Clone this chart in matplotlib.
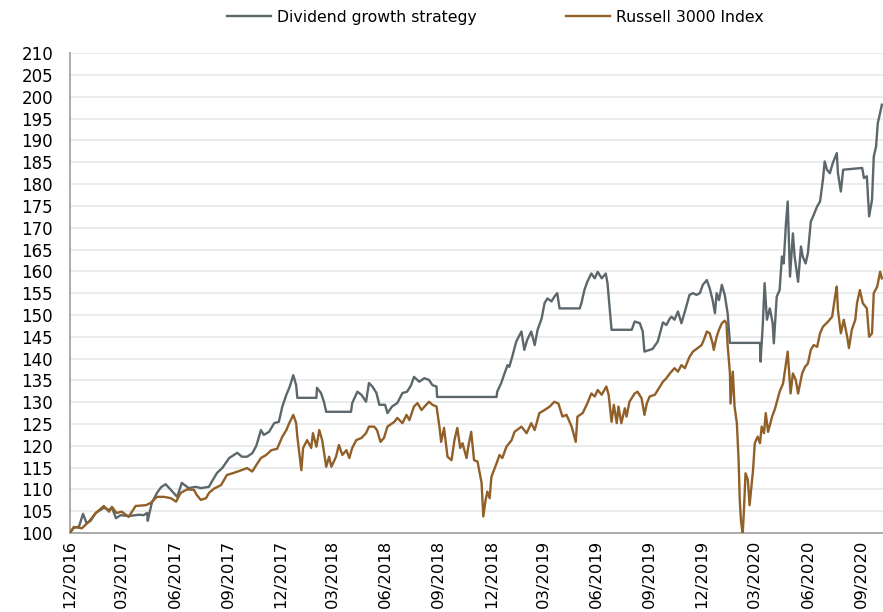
import pandas as pd
import matplotlib
matplotlib.use("Agg")
import matplotlib.pyplot as plt


# Dividend growth strategy (indexed to 100)
div_dates = [
    '2016-12-01', '2016-12-08', '2016-12-17', '2016-12-24', '2016-12-30', '2017-01-06', '2017-01-15', '2017-01-29',
    '2017-02-07', '2017-02-12', '2017-02-19', '2017-02-27', '2017-03-13', '2017-03-31', '2017-04-08', '2017-04-14',
    '2017-04-15', '2017-04-22', '2017-05-01', '2017-05-08', '2017-05-16', '2017-05-25', '2017-06-05', '2017-06-13',
    '2017-06-25', '2017-07-07', '2017-07-16', '2017-07-30', '2017-08-04', '2017-08-13', '2017-08-22', '2017-09-03',
    '2017-09-17', '2017-09-25', '2017-10-04', '2017-10-13', '2017-10-20', '2017-10-28', '2017-11-02', '2017-11-11',
    '2017-11-20', '2017-11-28', '2017-12-04', '2017-12-11', '2017-12-17', '2017-12-23', '2017-12-28', '2017-12-30',
    '2018-02-01', '2018-02-02', '2018-02-09', '2018-02-14', '2018-02-18', '2018-04-02', '2018-04-04', '2018-04-13',
    '2018-04-20', '2018-04-28', '2018-05-03', '2018-05-09', '2018-05-16', '2018-05-21', '2018-05-31', '2018-06-04',
    '2018-06-12', '2018-06-21', '2018-06-30', '2018-07-08', '2018-07-15', '2018-07-20', '2018-07-29', '2018-08-07',
    '2018-08-15', '2018-08-21', '2018-08-28', '2018-08-29', '2018-12-10', '2018-12-11', '2018-12-18', '2018-12-24',
    '2018-12-29', '2019-01-01', '2019-01-06', '2019-01-13', '2019-01-22', '2019-01-27', '2019-02-01', '2019-02-08',
    '2019-02-14', '2019-02-19', '2019-02-26', '2019-03-03', '2019-03-08', '2019-03-15', '2019-03-20', '2019-03-25',
    '2019-03-29', '2019-05-03', '2019-05-06', '2019-05-11', '2019-05-16', '2019-05-23', '2019-05-29', '2019-06-03',
    '2019-06-10', '2019-06-17', '2019-06-20', '2019-06-27', '2019-08-01', '2019-08-06', '2019-08-15', '2019-08-20',
    '2019-08-23', '2019-09-06', '2019-09-15', '2019-09-24', '2019-09-30', '2019-10-06', '2019-10-09', '2019-10-14',
    '2019-10-20', '2019-10-26', '2019-11-01', '2019-11-09', '2019-11-15', '2019-11-21', '2019-11-27', '2019-12-02',
    '2019-12-09', '2019-12-14', '2019-12-19', '2019-12-23', '2019-12-26', '2019-12-30', '2020-01-04', '2020-01-09',
    '2020-01-14', '2020-01-18', '2020-03-10', '2020-03-11', '2020-03-15', '2020-03-18', '2020-03-22', '2020-03-27',
    '2020-04-01', '2020-04-03', '2020-04-08', '2020-04-13', '2020-04-17', '2020-04-20', '2020-04-24', '2020-04-27',
    '2020-05-01', '2020-05-06', '2020-05-09', '2020-05-15', '2020-05-20', '2020-05-23', '2020-05-28', '2020-06-01',
    '2020-06-06', '2020-06-10', '2020-06-17', '2020-06-22', '2020-06-27', '2020-06-30', '2020-07-04', '2020-07-09',
    '2020-07-14', '2020-07-21', '2020-07-23', '2020-07-28', '2020-08-01', '2020-09-03', '2020-09-06', '2020-09-11',
    '2020-09-15', '2020-09-20', '2020-09-23', '2020-09-27', '2020-09-30', '2020-10-04', '2020-10-07',
]
div_values = [
    100.0, 101.2, 101.5, 104.4, 102.3, 102.8, 104.6, 105.8,
    105.3, 105.8, 103.4, 104.1, 103.9, 104.2, 104.1, 104.6,
    102.8, 106.9, 109.2, 110.5, 111.2, 109.9, 108.3, 111.5,
    110.3, 110.6, 110.3, 110.6, 111.8, 113.8, 114.9, 117.2,
    118.4, 117.5, 117.5, 118.3, 120.0, 123.6, 122.5, 123.2,
    125.2, 125.5, 129.0, 131.7, 133.6, 136.2, 133.9, 131.0,
    131.0, 133.3, 132.1, 130.1, 127.8, 127.8, 129.8, 132.4,
    131.7, 130.1, 134.4, 133.6, 132.1, 129.4, 129.4, 127.5,
    129.0, 129.8, 132.1, 132.4, 133.9, 135.8, 134.7, 135.5,
    135.1, 133.9, 133.6, 131.2, 131.2, 132.4, 134.4, 136.7,
    138.5, 138.1, 140.4, 143.9, 146.2, 142.0, 144.3, 146.2,
    143.1, 146.6, 149.2, 152.7, 153.8, 153.1, 154.2, 155.0,
    151.5, 151.5, 152.8, 155.7, 157.6, 159.5, 158.4, 159.9,
    158.4, 159.5, 157.3, 146.6, 146.6, 148.5, 148.1, 146.2,
    141.6, 142.2, 143.9, 148.3, 147.7, 149.2, 149.6, 148.9,
    150.8, 148.1, 150.8, 154.6, 155.0, 154.6, 155.0, 156.9,
    158.0, 156.1, 153.4, 150.4, 155.0, 153.4, 156.9, 154.6,
    150.4, 143.6, 143.6, 139.3, 148.1, 157.3, 148.9, 151.5,
    148.1, 143.5, 154.2, 155.7, 163.4, 161.8, 171.0, 176.0,
    158.8, 168.7, 163.4, 157.6, 165.7, 163.4, 161.8, 164.2,
    171.4, 172.6, 174.9, 176.0, 181.0, 185.2, 183.3, 182.5,
    184.8, 187.1, 182.5, 178.3, 183.3, 183.7, 181.4, 181.8,
    172.6, 176.4, 186.3, 188.6, 194.0, 196.3, 198.2,
]

# Russell 3000 Index (indexed to 100)
rus_dates = [
    '2016-12-01', '2016-12-08', '2016-12-22', '2017-01-03', '2017-01-15', '2017-01-29', '2017-02-07', '2017-02-12',
    '2017-02-20', '2017-03-01', '2017-03-13', '2017-03-25', '2017-04-12', '2017-04-20', '2017-05-01', '2017-05-13',
    '2017-05-25', '2017-06-03', '2017-06-11', '2017-06-22', '2017-07-04', '2017-07-09', '2017-07-16', '2017-07-25',
    '2017-07-30', '2017-08-08', '2017-08-20', '2017-08-30', '2017-09-11', '2017-09-24', '2017-10-04', '2017-10-13',
    '2017-10-20', '2017-10-28', '2017-11-06', '2017-11-15', '2017-11-25', '2017-12-04', '2017-12-11', '2017-12-16',
    '2017-12-23', '2017-12-28', '2017-12-30', '2018-01-06', '2018-01-09', '2018-01-16', '2018-01-23', '2018-01-26',
    '2018-02-01', '2018-02-06', '2018-02-11', '2018-02-18', '2018-02-23', '2018-02-27', '2018-03-07', '2018-03-12',
    '2018-03-18', '2018-03-25', '2018-03-30', '2018-04-04', '2018-04-11', '2018-04-20', '2018-04-28', '2018-05-03',
    '2018-05-12', '2018-05-17', '2018-05-23', '2018-05-29', '2018-06-04', '2018-06-16', '2018-06-21', '2018-06-30',
    '2018-07-07', '2018-07-12', '2018-07-20', '2018-07-26', '2018-08-02', '2018-08-10', '2018-08-15', '2018-08-21',
    '2018-08-28', '2018-09-02', '2018-09-05', '2018-09-10', '2018-09-16', '2018-09-23', '2018-09-28', '2018-10-03',
    '2018-10-08', '2018-10-12', '2018-10-19', '2018-10-22', '2018-10-27', '2018-11-01', '2018-11-07', '2018-11-14',
    '2018-11-17', '2018-11-21', '2018-11-24', '2018-11-28', '2018-12-01', '2018-12-10', '2018-12-15', '2018-12-20',
    '2018-12-27', '2019-01-05', '2019-01-10', '2019-01-22', '2019-01-31', '2019-02-08', '2019-02-14', '2019-02-22',
    '2019-03-03', '2019-03-12', '2019-03-20', '2019-03-27', '2019-04-03', '2019-04-10', '2019-04-19', '2019-04-26',
    '2019-04-29', '2019-05-08', '2019-05-16', '2019-05-23', '2019-05-29', '2019-06-03', '2019-06-10', '2019-06-18',
    '2019-06-22', '2019-06-27', '2019-07-01', '2019-07-06', '2019-07-09', '2019-07-14', '2019-07-20', '2019-07-23',
    '2019-07-28', '2019-08-06', '2019-08-11', '2019-08-18', '2019-08-23', '2019-08-27', '2019-09-01', '2019-09-10',
    '2019-09-18', '2019-09-24', '2019-09-30', '2019-10-06', '2019-10-14', '2019-10-20', '2019-10-26', '2019-11-01',
    '2019-11-09', '2019-11-15', '2019-11-23', '2019-11-30', '2019-12-05', '2019-12-09', '2019-12-14', '2019-12-19',
    '2019-12-21', '2019-12-26', '2019-12-30', '2020-01-04', '2020-01-09', '2020-01-12', '2020-01-14', '2020-01-18',
    '2020-01-19', '2020-01-23', '2020-01-26', '2020-01-30', '2020-02-02', '2020-02-04', '2020-02-06', '2020-02-09',
    '2020-02-11', '2020-02-14', '2020-02-18', '2020-02-21', '2020-02-27', '2020-03-01', '2020-03-06', '2020-03-10',
    '2020-03-13', '2020-03-17', '2020-03-20', '2020-03-24', '2020-03-31', '2020-04-05', '2020-04-13', '2020-04-19',
    '2020-04-24', '2020-04-27', '2020-05-02', '2020-05-06', '2020-05-11', '2020-05-15', '2020-05-22', '2020-05-27',
    '2020-06-01', '2020-06-06', '2020-06-11', '2020-06-17', '2020-06-22', '2020-06-27', '2020-07-06', '2020-07-13',
    '2020-07-18', '2020-07-21', '2020-07-23', '2020-07-28', '2020-08-02', '2020-08-08', '2020-08-11', '2020-08-16',
    '2020-08-22', '2020-08-25', '2020-08-30', '2020-09-04', '2020-09-11', '2020-09-15', '2020-09-20', '2020-09-23',
    '2020-09-29', '2020-10-04', '2020-10-07',
]
rus_values = [
    100.0, 101.4, 101.1, 102.6, 104.6, 106.2, 104.9, 106.0,
    104.6, 104.9, 103.7, 106.2, 106.4, 106.9, 108.3, 108.3,
    108.0, 107.2, 109.2, 110.0, 109.9, 108.7, 107.6, 108.0,
    109.2, 110.2, 111.0, 113.3, 113.8, 114.4, 114.9, 114.1,
    115.6, 117.2, 117.9, 119.0, 119.3, 122.1, 123.6, 125.2,
    127.1, 125.2, 122.1, 114.4, 119.5, 121.3, 119.5, 122.9,
    119.8, 123.6, 121.3, 115.2, 117.5, 115.2, 117.5, 120.2,
    117.9, 119.0, 117.2, 119.5, 121.3, 121.8, 122.9, 124.4,
    124.4, 123.6, 120.9, 121.8, 124.4, 125.5, 126.4, 125.2,
    127.1, 125.9, 129.0, 129.8, 128.2, 129.4, 130.1, 129.4,
    129.0, 124.4, 120.9, 124.1, 117.5, 116.7, 121.3, 124.1,
    119.5, 120.6, 117.2, 119.8, 123.2, 116.7, 116.4, 111.5,
    103.8, 107.6, 109.5, 108.0, 112.9, 116.0, 117.9, 117.2,
    119.8, 121.3, 123.2, 124.4, 122.9, 125.2, 123.6, 127.5,
    128.2, 129.0, 130.1, 129.7, 126.7, 127.1, 124.4, 120.9,
    126.7, 127.5, 129.7, 132.0, 131.3, 132.8, 131.7, 133.6,
    131.7, 125.5, 129.4, 125.2, 129.0, 125.2, 128.6, 126.7,
    130.1, 132.0, 132.4, 130.9, 127.1, 129.7, 131.3, 131.7,
    133.4, 134.7, 135.5, 136.6, 137.8, 137.0, 138.5, 137.8,
    140.4, 141.6, 142.4, 143.1, 144.7, 146.2, 145.8, 143.5,
    142.0, 145.0, 146.6, 148.1, 148.7, 148.1, 143.1, 136.6,
    129.7, 137.0, 129.0, 125.2, 116.7, 107.6, 103.0, 99.6,
    104.6, 113.7, 112.2, 106.4, 114.4, 120.6, 122.1, 120.6,
    124.4, 122.9, 127.5, 123.2, 126.7, 128.5, 132.4, 134.3,
    138.9, 141.6, 132.0, 136.6, 135.1, 132.0, 136.6, 138.1,
    138.9, 142.0, 143.1, 142.7, 145.8, 147.3, 148.5, 149.6,
    154.2, 156.5, 151.1, 145.8, 148.9, 145.0, 142.4, 146.6,
    148.9, 152.7, 155.7, 152.7, 151.5, 145.0, 145.8, 155.0,
    156.5, 159.9, 158.4,
]

y_ticks = list(range(100, 215, 5))
x_ticks = pd.date_range('2016-12-01', '2020-09-01', freq='3MS')

div_color = '#5c676c'
rus_color = '#915f28'


fig = plt.figure(figsize=(8.83, 6.12), dpi=100)
ax = fig.add_axes([0.079, 0.129, 0.921, 0.784])

ax.plot(pd.to_datetime(div_dates), div_values, color=div_color, lw=1.7,
        label='Dividend growth strategy', zorder=3)
ax.plot(pd.to_datetime(rus_dates), rus_values, color=rus_color, lw=1.7,
        label='Russell 3000 Index', zorder=3)

ax.set_ylim(100, 210)
ax.set_xlim(pd.Timestamp('2016-12-01'), pd.Timestamp('2020-10-09'))
ax.set_yticks(y_ticks)
ax.set_xticks(x_ticks)
ax.set_xticklabels([d.strftime('%m/%Y') for d in x_ticks], rotation=90)

ax.grid(axis='y', color='#ebebeb', lw=1.4)
ax.set_axisbelow(True)
for side in ['top', 'right']:
    ax.spines[side].set_visible(False)
for side in ['left', 'bottom']:
    ax.spines[side].set_color('#a6a6a6')
    ax.spines[side].set_linewidth(1.3)
ax.tick_params(axis='y', length=0, labelsize=12, pad=12, colors='black')
ax.tick_params(axis='x', length=0, labelsize=11.8, pad=5, colors='black')

fig.legend(loc='upper center', bbox_to_anchor=(0.561, 1.007), ncol=2, frameon=False,
           fontsize=11.3, handlelength=2.8, columnspacing=5.7, handletextpad=0.4)

fig.savefig('out.png', dpi=100)
